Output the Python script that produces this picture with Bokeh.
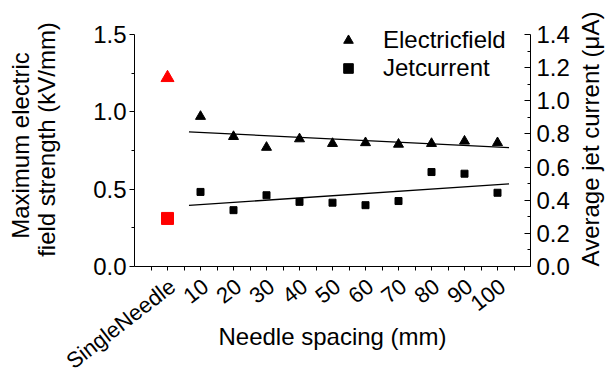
import math
import numpy as np
from bokeh.plotting import figure
from bokeh.models import (Range1d, LinearAxis, FixedTicker, PrintfTickFormatter,
                          ColumnDataSource, LabelSet, Label, Legend, LegendItem)
from bokeh.embed import file_html
from bokeh.resources import INLINE
from bokeh.core.properties import value

# ---------------- data ----------------
categories = ["SingleNeedle", "10", "20", "30", "40", "50", "60", "70", "80", "90", "100"]
electric_field = [1.22, 0.97, 0.84, 0.77, 0.825, 0.795, 0.80, 0.79, 0.795, 0.81, 0.80]    # kV/mm
jet_current = [0.29, 0.45, 0.34, 0.43, 0.39, 0.385, 0.37, 0.395, 0.57, 0.56, 0.445]       # uA
left_ticks = [0.0, 0.5, 1.0, 1.5]
right_ticks = [0.0, 0.2, 0.4, 0.6, 0.8, 1.0, 1.2, 1.4]
x_title = "Needle spacing (mm)"
left_title = ["Maximum electric", "field strength (kV/mm)"]
right_title = "Average jet current (\u03bcA)"

FONT = "Liberation Sans"
FS = "24px"

# ---------------- geometry (pixels on the 608x374 canvas) ----------------
W, H = 608, 374
AX_L, AX_R = 134, 530          # left / right axis lines
AX_B, AX_T = 266, 34           # y = 0 line / top of the value axes
n = len(categories)
pos = list(range(n))
x_lo, x_hi = -1, n             # category axis spans one slot beyond each end
l_lo, l_hi = left_ticks[0], left_ticks[-1]
r_lo, r_hi = right_ticks[0], right_ticks[-1]

def xd(px):
    return x_lo + (px - AX_L) * (x_hi - x_lo) / (AX_R - AX_L)

def yd(py, lo=l_lo, hi=l_hi):
    return lo + (AX_B - py) * (hi - lo) / (AX_B - AX_T)

p = figure(width=W, height=H, output_backend="svg", toolbar_location=None,
           x_range=Range1d(xd(0), xd(W)), y_range=Range1d(yd(H), yd(0)),
           min_border=0)
p.extra_y_ranges = {"jet": Range1d(yd(H, r_lo, r_hi), yd(0, r_lo, r_hi))}
p.outline_line_color = None
p.grid.visible = False
p.background_fill_color = "white"
p.border_fill_color = "white"

def minor_between(ticks, k):
    out = []
    for a, b in zip(ticks[:-1], ticks[1:]):
        out += [a + (b - a) * j / k for j in range(1, k)]
    return out

# ---------------- x axis ----------------
xa = p.xaxis[0]
xa.fixed_location = l_lo
xa.bounds = (x_lo, x_hi)
xa.ticker = FixedTicker(ticks=[], minor_ticks=[i / 2 for i in range(2 * x_lo + 1, 2 * x_hi)])
xa.axis_line_color = "black"
xa.minor_tick_in = 0
xa.minor_tick_out = 4
xa.minor_tick_line_color = "black"
xa.major_tick_in = 0
xa.major_tick_out = 4

# ---------------- left axis ----------------
ya = p.yaxis[0]
ya.fixed_location = x_lo
ya.bounds = (l_lo, l_hi)
ya.ticker = FixedTicker(ticks=left_ticks, minor_ticks=minor_between(left_ticks, 2))
ya.formatter = PrintfTickFormatter(format="%.1f")
ya.axis_line_color = "black"
ya.major_tick_in = 0
ya.major_tick_out = 5
ya.minor_tick_in = 0
ya.minor_tick_out = 3
ya.major_tick_line_color = "black"
ya.minor_tick_line_color = "black"
ya.major_label_standoff = 3
ya.major_label_text_font = FONT
ya.major_label_text_font_size = FS
ya.major_label_text_color = "black"

# ---------------- right axis ----------------
ra = LinearAxis(y_range_name="jet", fixed_location=x_hi, bounds=(r_lo, r_hi),
                ticker=FixedTicker(ticks=right_ticks, minor_ticks=minor_between(right_ticks, 2)),
                formatter=PrintfTickFormatter(format="%.1f"))
ra.axis_line_color = "black"
ra.major_tick_in = 6
ra.major_tick_out = 0
ra.minor_tick_in = 3
ra.minor_tick_out = 0
ra.major_tick_line_color = "black"
ra.minor_tick_line_color = "black"
ra.major_label_standoff = 6
ra.major_label_text_font = FONT
ra.major_label_text_font_size = FS
ra.major_label_text_color = "black"
p.add_layout(ra, "right")

# ---------------- data marks ----------------
src_single = ColumnDataSource(dict(x=pos[:1], ef=electric_field[:1], jc=jet_current[:1]))
src_array = ColumnDataSource(dict(x=pos[1:], ef=electric_field[1:], jc=jet_current[1:]))

r_ef = p.scatter("x", "ef", source=src_array, marker="triangle", size=10,
                 fill_color="black", line_color="black")
r_jc = p.scatter("x", "jc", source=src_array, marker="square", size=7,
                 fill_color="black", line_color="black", y_range_name="jet")
p.scatter("x", "ef", source=src_single, marker="triangle", size=13,
          fill_color="red", line_color="red")
p.scatter("x", "jc", source=src_single, marker="square", size=12,
          fill_color="red", line_color="red", y_range_name="jet")

# linear fits over the needle-array points
xs = np.array(pos[1:], dtype=float)
fit_x = np.array([xs[0] - 0.35, xs[-1] + 0.35])
ef_fit = np.polyval(np.polyfit(xs, electric_field[1:], 1), fit_x)
jc_fit = np.polyval(np.polyfit(xs, jet_current[1:], 1), fit_x)
p.line(fit_x, ef_fit, line_color="black", line_width=1.3)
p.line(fit_x, jc_fit, line_color="black", line_width=1.3, y_range_name="jet")

# ---------------- category labels (rotated) ----------------
lab_src = ColumnDataSource(dict(x=pos, y=[yd(283)] * n, text=categories))
p.add_layout(LabelSet(x="x", y="y", text="text", source=lab_src, angle=0.66,
                      text_align="right", text_baseline="middle", x_offset=5,
                      text_font=value(FONT), text_font_size="22px", text_color="black"))

# ---------------- axis titles ----------------
def title(text, px, py, angle=0.0, baseline="middle"):
    p.add_layout(Label(x=xd(px), y=yd(py), text=text, angle=angle,
                       text_align="center", text_baseline=baseline,
                       text_font=FONT, text_font_size=FS, text_color="black"))

title(x_title, (AX_L + AX_R) / 2, 336, baseline="alphabetic")
title(left_title[0], 20, 145, angle=math.pi / 2)
title(left_title[1], 45.5, 139, angle=math.pi / 2)
title(right_title, 590, 138.5, angle=math.pi / 2)

# ---------------- legend ----------------
legend = Legend(items=[LegendItem(label="Electricfield", renderers=[r_ef]),
                       LegendItem(label="Jetcurrent", renderers=[r_jc])],
                location=(336, 292), orientation="vertical",
                border_line_color=None, background_fill_alpha=0,
                padding=0, margin=0, spacing=0,
                glyph_width=24, glyph_height=26, label_height=26, label_standoff=23,
                label_text_font=FONT, label_text_font_size=FS, label_text_color="black")
p.add_layout(legend)

open("out.html", "w").write(file_html(p, INLINE))
